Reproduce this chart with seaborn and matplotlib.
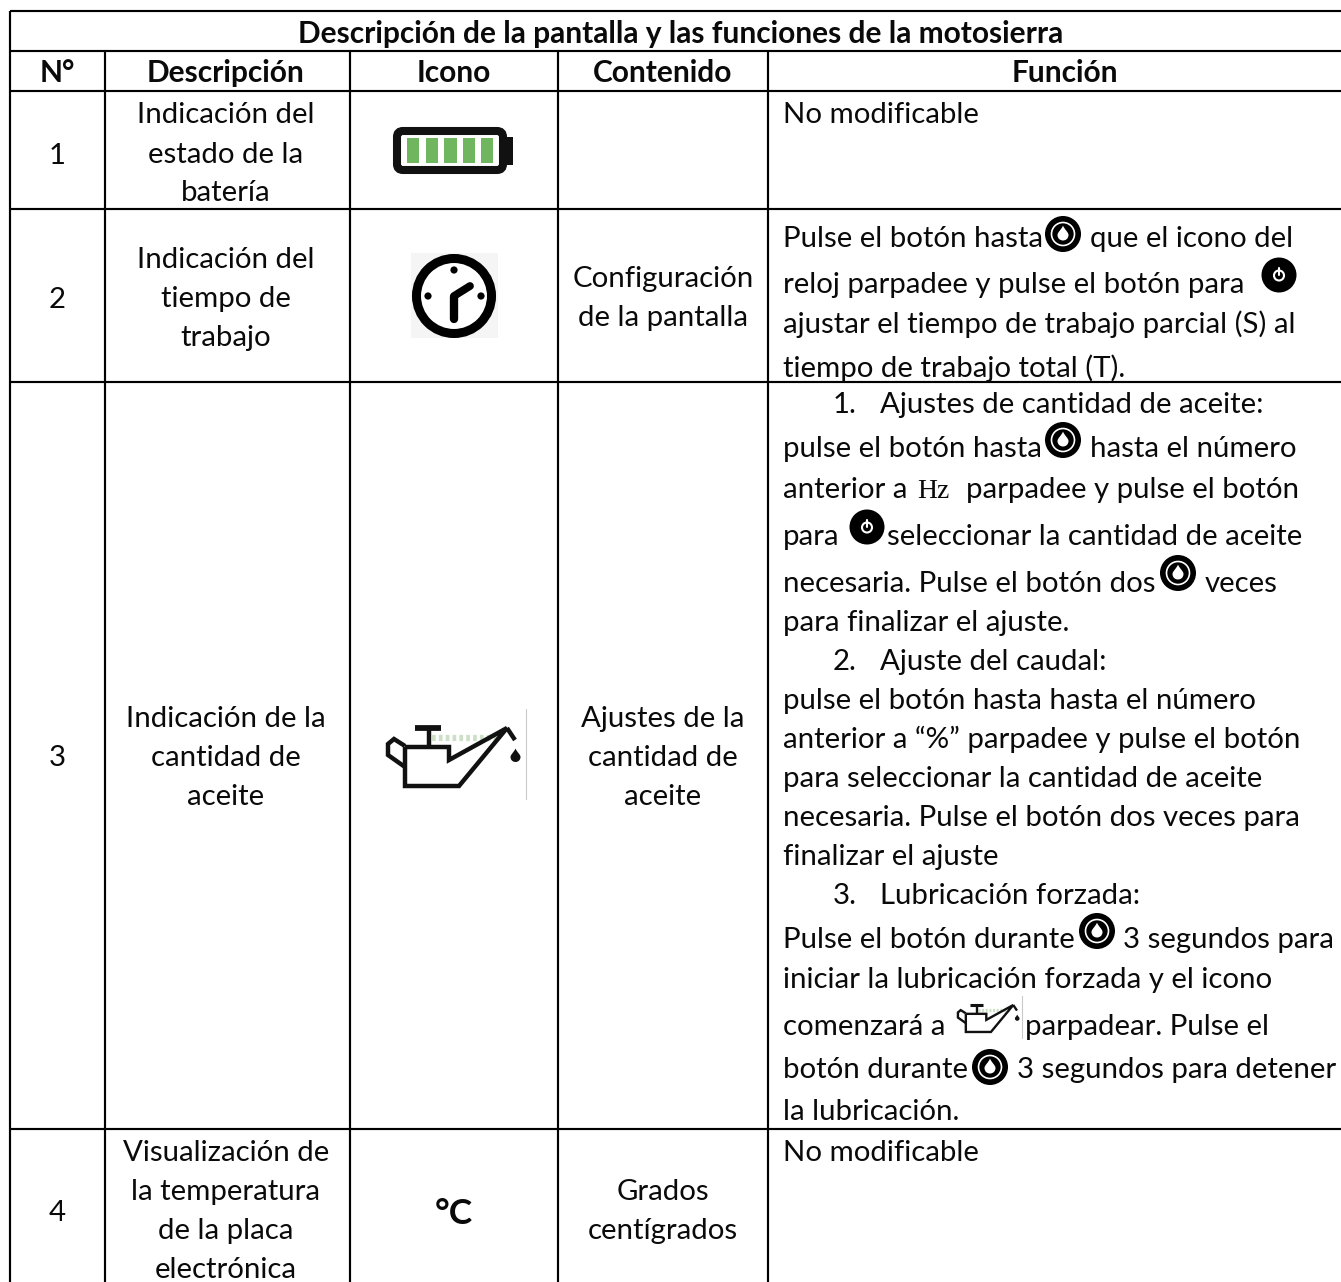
import matplotlib
matplotlib.use("Agg")
import matplotlib.pyplot as plt
from matplotlib.patches import Circle, FancyBboxPatch, Rectangle, PathPatch
from matplotlib.path import Path
import seaborn as sns

# ---------- content ----------
TITLE = "Descripción de la pantalla y las funciones de la motosierra"
HEADERS = ["N°", "Descripción", "Icono", "Contenido", "Función"]
NUMBERS = ["1", "2", "3", "4"]
DESC_1 = ["Indicación del", "estado de la", "batería"]
DESC_2 = ["Indicación del", "tiempo de", "trabajo"]
DESC_3 = ["Indicación de la", "cantidad de", "aceite"]
DESC_4 = ["Visualización de", "la temperatura", "de la placa", "electrónica"]
CONT_2 = ["Configuración", "de la pantalla"]
CONT_3 = ["Ajustes de la", "cantidad de", "aceite"]
CONT_4 = ["Grados", "centígrados"]
ICON_4 = "°C"
FUNC_FIXED = "No modificable"
FUNC_2 = ["Pulse el botón hasta", "que el icono del",
          "reloj parpadee y pulse el botón para",
          "ajustar el tiempo de trabajo parcial (S) al",
          "tiempo de trabajo total (T)."]
FUNC_3 = ["1.", "Ajustes de cantidad de aceite:",
          "pulse el botón hasta", "hasta el número",
          "anterior a", "Hz", "parpadee y pulse el botón",
          "para", "seleccionar la cantidad de aceite",
          "necesaria. Pulse el botón dos", "veces",
          "para finalizar el ajuste.",
          "2.", "Ajuste del caudal:",
          "pulse el botón hasta hasta el número",
          "anterior a “%” parpadee y pulse el botón",
          "para seleccionar la cantidad de aceite",
          "necesaria. Pulse el botón dos veces para",
          "finalizar el ajuste",
          "3.", "Lubricación forzada:",
          "Pulse el botón durante", "3 segundos para",
          "iniciar la lubricación forzada y el icono",
          "comenzará a", "parpadear. Pulse el",
          "botón durante", "3 segundos para detener",
          "la lubricación."]

# ---------- layout (pixels of the page) ----------
sns.set_theme(style="white")
plt.rcParams["font.family"] = ["Lato", "DejaVu Sans"]
W, H = 1341, 1282
fig = plt.figure(figsize=(W / 100, H / 100), dpi=100)
ax = fig.add_axes([0, 0, 1, 1])
ax.set_xlim(0, W)
ax.set_ylim(H, 0)
ax.axis("off")

FS = 21.2
BOLD = 21.5
INK = "#0a0a0a"
LW = 1.55


def t(x, y, s, ha="left", weight="normal", size=FS, **kw):
    kw.setdefault("family", ["Lato", "DejaVu Sans"])
    ax.text(x, y, s, ha=ha, va="baseline", fontweight=weight, fontsize=size, color=INK, **kw)


# grid: the right and bottom borders are cut off by the page edge
X = [10, 105, 350, 558, 768]
Y = [11, 51, 91, 209, 382, 1129]
ax.hlines(Y, X[0], W, color="black", lw=LW)
ax.vlines(X[0], Y[0], H, color="black", lw=LW)
ax.vlines(X[1:], Y[1], H, color="black", lw=LW)

# title and headers
t(681, 43, TITLE, ha="center", weight="bold", size=BOLD)
for x, s in zip([57, 226, 454, 663, 1065], HEADERS):
    t(x, 82, s, ha="center", weight="bold", size=BOLD)

# number column
for y, s in zip([164, 308, 766, 1221], NUMBERS):
    t(57, y, s, ha="center")

# description column
for lines, ys in [(DESC_1, [123, 163, 201]), (DESC_2, [268, 307, 346]),
                  (DESC_3, [727, 766, 805]), (DESC_4, [1161, 1200, 1239, 1278])]:
    for y, s in zip(ys, lines):
        t(226, y, s, ha="center")

# content column
for lines, ys in [(CONT_2, [287, 326]), (CONT_3, [727, 766, 805]), (CONT_4, [1200, 1239])]:
    for y, s in zip(ys, lines):
        t(663, y, s, ha="center")

# function column
t(783, 123, FUNC_FIXED)
t(783, 1161, FUNC_FIXED)
POS_2 = [(783, 247), (1090, 247), (783, 293), (783, 333), (783, 377)]
for (x, y), s in zip(POS_2, FUNC_2):
    t(x, y, s)
POS_3 = [(833, 413), (880, 413), (783, 457), (1090, 457), (783, 498), (917, 498), (966, 498),
         (783, 545), (887, 545), (783, 592), (1205, 592), (783, 631),
         (833, 670), (880, 670), (783, 709), (783, 748), (783, 787), (783, 826), (783, 865),
         (833, 904), (880, 904), (783, 948), (1123, 948), (783, 988),
         (783, 1035), (1025, 1035), (783, 1078), (1017, 1078), (783, 1120)]
for (x, y), s in zip(POS_3, FUNC_3):
    if s == "Hz":
        t(x, y, s, family="Liberation Serif", size=20)
    else:
        t(x, y, s)

# icon °C
t(454, 1224, ICON_4, ha="center", weight="bold", size=25.5)


def drop(cx, cy, r, color):
    verts = [(cx, cy - 1.7 * r), (cx + 0.35 * r, cy - 0.9 * r), (cx + r, cy - 0.5 * r), (cx + r, cy),
             (cx + r, cy + 0.6 * r), (cx + 0.55 * r, cy + r), (cx, cy + r),
             (cx - 0.55 * r, cy + r), (cx - r, cy + 0.6 * r), (cx - r, cy),
             (cx - r, cy - 0.5 * r), (cx - 0.35 * r, cy - 0.9 * r), (cx, cy - 1.7 * r)]
    codes = [Path.MOVETO] + [Path.CURVE4] * 12
    ax.add_patch(PathPatch(Path(verts, codes), fc=color, ec="none", zorder=6))


def ring_button(cx, cy):
    ax.add_patch(Circle((cx, cy), 18, fc="black", ec="none", zorder=4))
    ax.add_patch(Circle((cx, cy), 11.5, fc="black", ec="white", lw=1.2, zorder=5))
    drop(cx, cy + 1, 5.5, "white")


def power_button(cx, cy):
    ax.add_patch(Circle((cx, cy), 17.5, fc="black", ec="none", zorder=4))
    ax.add_patch(Circle((cx, cy + 0.5), 5, fc="none", ec="white", lw=1.5, zorder=5))
    ax.plot([cx, cx], [cy - 7, cy], color="white", lw=1.5, zorder=6)


for cx, cy in [(1063, 234), (1063, 440), (1178, 573), (1097, 931), (990, 1067)]:
    ring_button(cx, cy)
for cx, cy in [(1279, 275), (867, 527)]:
    power_button(cx, cy)

# battery icon
GREEN = "#6fb65f"
ax.add_patch(FancyBboxPatch((397, 131), 106, 39, boxstyle="round,pad=0,rounding_size=6",
                            fc="white", ec="#111111", lw=5.8))
ax.add_patch(Rectangle((507, 137), 6.5, 28, fc="#111111", ec="none"))
for x in [407, 425.7, 444.3, 463, 481]:
    ax.add_patch(Rectangle((x, 138), 12.5, 25, fc=GREEN, ec="none"))

# clock icon
ax.add_patch(Rectangle((411, 253), 87, 85, fc="#f5f5f5", ec="none"))
ax.add_patch(Circle((454, 296), 37.5, fc="white", ec="black", lw=6.5))
for x, y in [(454, 270), (428, 296), (481, 296)]:
    ax.add_patch(Circle((x, y), 3.6, fc="black", ec="none"))
ax.plot([454, 454], [319, 297], color="black", lw=6, solid_capstyle="round")
ax.plot([454, 470], [296, 286], color="black", lw=5.6, solid_capstyle="round")


# oil can icon
def oil_can(ox, oy, k, lw):
    def P(x, y):
        return ox + (x - 386) * k, oy + (y - 728) * k
    body = [(405, 747), (405, 786), (459, 786), (507, 728), (449, 760), (449, 747), (405, 747)]
    handle = [(405, 746), (394, 739), (388, 744), (388, 755), (405, 767)]
    for pts, w in [(body, lw), (handle, lw), ([(507, 728), (515, 740)], lw),
                   ([(429, 730), (429, 747)], lw), ([(415, 728), (441, 728)], lw * 1.3)]:
        xs, ys = zip(*[P(*p) for p in pts])
        ax.plot(xs, ys, color="#111111", lw=w, solid_joinstyle="miter", solid_capstyle="butt", zorder=3)
    xs, ys = zip(*[P(432, 738), P(500, 738)])
    ax.plot(xs, ys, color="#b8d4b0", lw=lw * 1.4, ls=(0, (0.6, 0.5)), alpha=0.7, zorder=2)
    drop(*P(515.5, 757), 5 * k, "#111111")
    xs, ys = zip(*[P(526, 709), P(526, 799)])
    ax.plot(xs, ys, color="#c9c9c9", lw=0.8, zorder=2)


oil_can(386, 728, 1.0, 3.2)
oil_can(957, 1005, 0.465, 1.7)

fig.savefig("out.png", dpi=100, facecolor="white")
